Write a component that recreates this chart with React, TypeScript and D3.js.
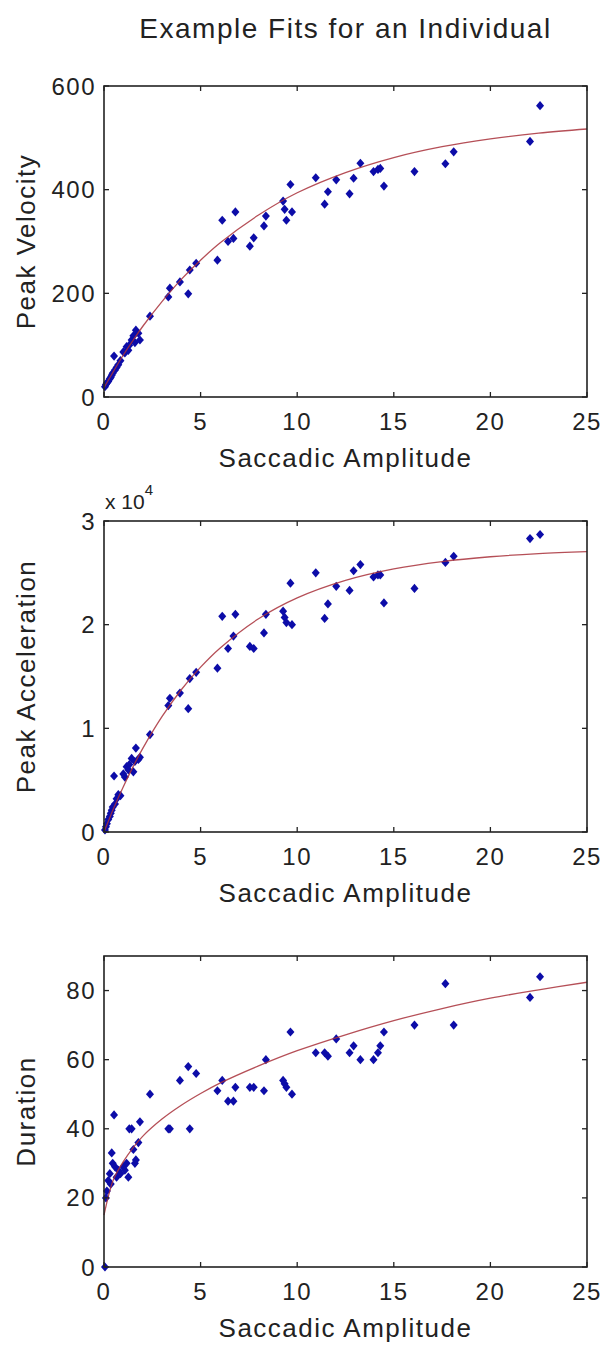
import React from 'react';
import * as d3 from 'd3';

// saccade amplitudes (deg), shared by all three panels
const amplitude = [
  0.05, 0.1, 0.15, 0.22, 0.3, 0.35, 0.4, 0.45, 0.52, 0.57, 0.65, 0.74, 0.85,
  1.0, 1.08, 1.17, 1.26, 1.31, 1.43, 1.52, 1.6, 1.65, 1.78, 1.86, 2.38,
  3.33, 3.41, 3.93, 4.36, 4.44, 4.77, 5.87, 6.12, 6.42, 6.7, 6.8, 7.55, 7.75,
  8.28, 8.38, 9.27, 9.35, 9.44, 9.65, 9.73, 10.96, 11.42, 11.59, 12.02, 12.71,
  12.92, 13.27, 13.95, 14.18, 14.3, 14.49, 16.07, 17.67, 18.1, 22.05, 22.57,
];
const peakVelocity = [
  20, 24, 27, 30, 35, 38, 42, 46, 79, 52, 57, 62, 70,
  87, 85, 97, 90, 100, 110, 118, 105, 129, 123, 110, 156,
  193, 210, 222, 199, 245, 258, 264, 341, 300, 306, 357, 291, 307,
  330, 349, 378, 362, 341, 410, 357, 423, 372, 396, 419, 392,
  422, 451, 435, 439, 441, 407, 435, 450, 473, 493, 562,
];
const peakAcceleration = [
  200, 500, 800, 1200, 1500, 1800, 2100, 2400, 5400, 2700, 3200, 3600, 3500,
  5600, 5300, 6300, 6000, 6500, 7100, 5800, 6800, 8100, 7000, 7200, 9400,
  12200, 12900, 13400, 11900, 14800, 15400, 15800, 20800, 17700, 18900, 21000, 17900, 17700,
  19200, 21000, 21300, 20700, 20200, 24000, 20000, 25000, 20600, 22000, 23700, 23300,
  25200, 25800, 24600, 24800, 24800, 22100, 23500, 26000, 26600, 28300, 28700,
];
const duration = [
  0, 20, 22, 25, 27, 24, 33, 30, 44, 29, 26, 28, 27,
  29, 28, 30, 26, 40, 40, 34, 30, 31, 36, 42, 50,
  40, 40, 54, 58, 40, 56, 51, 54, 48, 48, 52, 52, 52,
  51, 60, 54, 53, 52, 68, 50, 62, 62, 61, 66, 62,
  64, 60, 60, 62, 64, 68, 70, 82, 70, 78, 84,
];

// fitted curves
const fitAmplitude = [0, 0.25, 0.5, 1, 1.5, 2, 3, 4, 5, 6, 8, 10, 12.5, 15, 17.5, 20, 22.5, 25];
const velocityFit = [18, 34, 50, 81, 109, 136, 184, 227, 264, 297, 351, 394, 433, 462, 483, 498, 509, 517];
const accelerationFit = [0, 1160, 2280, 4370, 6280, 8040, 11120, 13720, 15900, 17730, 20570, 22580, 24270, 25380, 26090, 26550, 26850, 27040];
const durationFit = [15, 21, 25.5, 30.5, 34.5, 37.8, 42.8, 46.8, 50.2, 53.2, 58.2, 62.6, 67.2, 71.3, 74.8, 77.8, 80.2, 82.4];

const xTicks = [0, 5, 10, 15, 20, 25];
const velocityTicks = [0, 200, 400, 600];
const accelerationTicks = [0, 10000, 20000, 30000];
const durationTicks = [0, 20, 40, 60, 80];

const W = 602;
const H = 1345;
const left = 104;
const right = 587;
const plotH = 311;
const font = "'Liberation Sans', Arial, sans-serif";
const ink = '#222';
const markerColor = '#0c0ca8';
const fitColor = '#a8303a';
const spacing = 1.5;

const diamond = 'M0,-4.6L4,0L0,4.6L-4,0Z';

type PanelProps = {
  top: number;
  values: number[];
  fit: number[];
  yMax: number;
  yTicks: number[];
  yLabel: string;
  tickFormat?: (v: number) => string;
  exponent?: boolean;
};

const Panel = ({ top, values, fit, yMax, yTicks, yLabel, tickFormat, exponent }: PanelProps) => {
  const x = d3.scaleLinear().domain([0, 25]).range([left, right]);
  const y = d3.scaleLinear().domain([0, yMax]).range([top + plotH, top]);
  const line = d3
    .line<number>()
    .x((_, i) => x(fitAmplitude[i]))
    .y(d => y(d))
    .curve(d3.curveCatmullRom.alpha(0.5));
  const fmt = tickFormat || ((v: number) => String(v));
  const bottom = top + plotH;
  const tl = 5;

  return (
    <g>
      <g>
        {values.map((v, i) => (
          <path key={i} d={diamond} transform={`translate(${x(amplitude[i])},${y(v)})`} fill={markerColor} />
        ))}
      </g>
      <path d={line(fit) || ''} fill="none" stroke={fitColor} strokeWidth={1.3} opacity={0.85} />
      <rect x={left} y={top} width={right - left} height={plotH} fill="none" stroke={ink} strokeWidth={1.6} />
      {xTicks.map(t => (
        <g key={'x' + t}>
          <line x1={x(t)} x2={x(t)} y1={bottom} y2={bottom - tl} stroke={ink} strokeWidth={1.3} />
          <line x1={x(t)} x2={x(t)} y1={top} y2={top + tl} stroke={ink} strokeWidth={1.3} />
          <text x={x(t)} y={bottom + 33} textAnchor="middle" fontSize={24} letterSpacing={spacing} fill={ink}>
            {t}
          </text>
        </g>
      ))}
      {yTicks.map(t => (
        <g key={'y' + t}>
          <line x1={left} x2={left + tl} y1={y(t)} y2={y(t)} stroke={ink} strokeWidth={1.3} />
          <line x1={right} x2={right - tl} y1={y(t)} y2={y(t)} stroke={ink} strokeWidth={1.3} />
          <text x={left - 8} y={y(t) + 8.5} textAnchor="end" fontSize={24} letterSpacing={spacing} fill={ink}>
            {fmt(t)}
          </text>
        </g>
      ))}
      {exponent && (
        <text x={left + 1} y={top - 12} fontSize={21} fill={ink}>
          x 10<tspan dy={-14} fontSize={15}>4</tspan>
        </text>
      )}
      <text
        x={(left + right) / 2}
        y={bottom + 70}
        textAnchor="middle"
        fontSize={26}
        letterSpacing={spacing}
        fill={ink}
      >
        Saccadic Amplitude
      </text>
      <text
        transform={`translate(35,${top + plotH / 2}) rotate(-90)`}
        textAnchor="middle"
        fontSize={26}
        letterSpacing={spacing}
        fill={ink}
      >
        {yLabel}
      </text>
    </g>
  );
};

export default function App() {
  return (
    <svg
      width={W}
      height={H}
      style={{ position: 'absolute', left: 0, top: 0, background: '#fff' }}
      fontFamily={font}
    >
      <rect width={W} height={H} fill="#fff" />
      <text x={(left + right) / 2} y={38} textAnchor="middle" fontSize={28} letterSpacing={spacing} fill={ink}>
        Example Fits for an Individual
      </text>
      <Panel top={86} values={peakVelocity} fit={velocityFit} yMax={600} yTicks={velocityTicks} yLabel="Peak Velocity" />
      <Panel
        top={521}
        values={peakAcceleration}
        fit={accelerationFit}
        yMax={30000}
        yTicks={accelerationTicks}
        yLabel="Peak Acceleration"
        tickFormat={v => String(v / 10000)}
        exponent
      />
      <Panel top={956} values={duration} fit={durationFit} yMax={90} yTicks={durationTicks} yLabel="Duration" />
    </svg>
  );
}
